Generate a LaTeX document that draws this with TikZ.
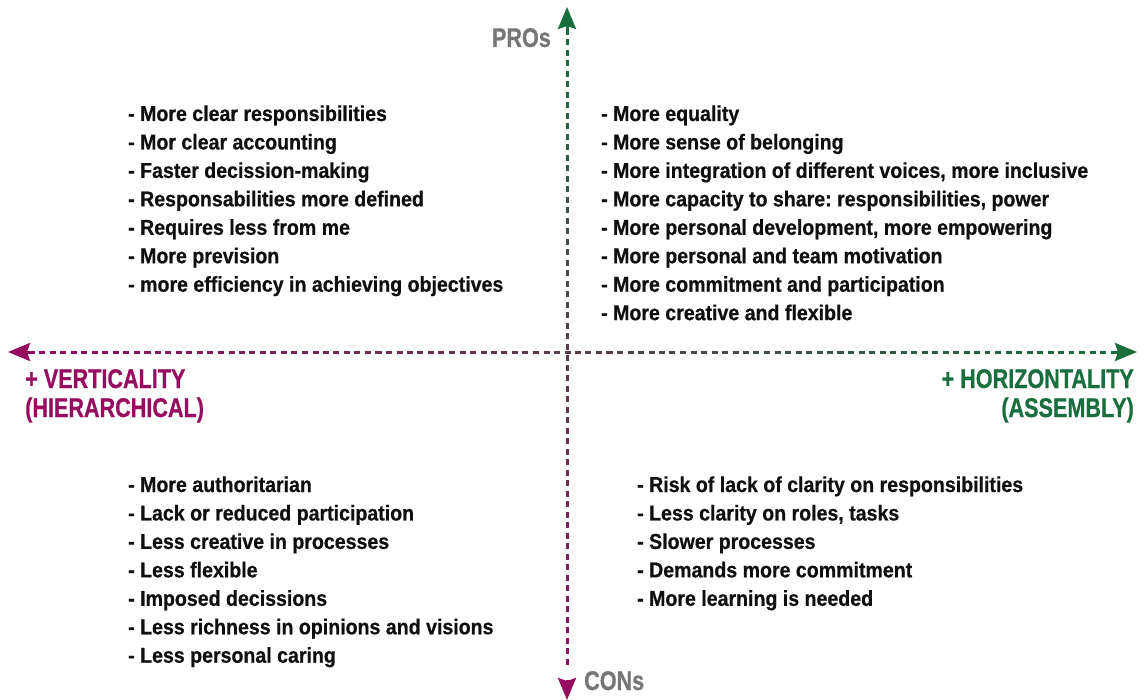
\documentclass[tikz,border=0pt]{standalone}
\usepackage{fontspec}
\setmainfont{Liberation Sans}[FakeStretch=0.91,BoldFeatures={FakeBold=0.6}]
\newfontfamily\axfont{Liberation Sans}[FakeStretch=0.8,BoldFeatures={FakeBold=0.6}]
\usetikzlibrary{arrows.meta,calc}
\definecolor{axgreen}{RGB}{24,110,60}
\definecolor{axmag}{RGB}{150,12,95}
\definecolor{axgray}{RGB}{118,118,118}
\definecolor{itemtext}{RGB}{15,15,15}
\frenchspacing
\begin{document}
\begin{tikzpicture}[x=1pt,y=-1pt,
  item/.style={anchor=base west,inner sep=0pt,font=\fontsize{21.5}{25}\selectfont\bfseries,text=itemtext},
  axlabel/.style={inner sep=0pt,font=\axfont\fontsize{27}{30}\selectfont\bfseries},
  dashseg/.style={line width=3pt},
  tip/.style={line width=3pt,-{Stealth[length=22pt,width=18pt,inset=3pt]}}]
\useasboundingbox (0,0) rectangle (1145,700);
% axis coordinates
\coordinate (toptip) at (567,7);
\coordinate (topbase) at (567,29);
\coordinate (bottip) at (567,700);
\coordinate (botbase) at (567,680);
\coordinate (lefttip) at (8,352);
\coordinate (leftbase) at (29,352);
\coordinate (righttip) at (1137,352);
\coordinate (rightbase) at (1115,352);
% vertical gradient dashes (green top -> magenta bottom)
\foreach \k in {0,...,60}{
  \pgfmathsetmacro\ta{\k*10.5/651}
  \pgfmathsetmacro\tb{min(1,(\k*10.5+6)/651)}
  \pgfmathsetmacro\f{100*(\ta+\tb)/2}
  \ifdim\ta pt<1pt
  \draw[dashseg,color=axmag!\f!axgreen] ($(topbase)!\ta!(botbase)$) -- ($(topbase)!\tb!(botbase)$);
  \fi
}
% horizontal gradient dashes (magenta left -> green right)
\foreach \k in {0,...,103}{
  \pgfmathsetmacro\ta{\k*10.5/1086}
  \pgfmathsetmacro\tb{min(1,(\k*10.5+6)/1086)}
  \pgfmathsetmacro\f{100*(\ta+\tb)/2}
  \ifdim\ta pt<1pt
  \draw[dashseg,color=axgreen!\f!axmag] ($(leftbase)!\ta!(rightbase)$) -- ($(leftbase)!\tb!(rightbase)$);
  \fi
}
% arrow heads
\draw[tip,axgreen] (topbase) -- (toptip);
\draw[tip,axmag] (botbase) -- (bottip);
\draw[tip,axmag] (leftbase) -- (lefttip);
\draw[tip,axgreen] (rightbase) -- (righttip);
% axis labels
\node[axlabel,anchor=base east,text=axgray] (pros) at (551,47) {PROs};
\node[axlabel,anchor=base west,text=axgray] (cons) at (584,690) {CONs};
\node[axlabel,anchor=base west,text=axmag] (vert1) at (25,388) {+ VERTICALITY};
\node[axlabel,anchor=base west,text=axmag] (vert2) at (25,417) {(HIERARCHICAL)};
\node[axlabel,anchor=base east,text=axgreen] (hor1) at (1134,388) {+ HORIZONTALITY};
\node[axlabel,anchor=base east,text=axgreen] (hor2) at (1134,417) {(ASSEMBLY)};
% lists
\foreach \t [count=\i] in {- More clear responsibilities,- Mor clear accounting,- Faster decission-making,- Responsabilities more defined,- Requires less from me,- More prevision,- more efficiency in achieving objectives}
  \node[item] (tl\i) at (128,{121+28.45*(\i-1)}) {\t};
\foreach \t [count=\i] in {- More equality,- More sense of belonging,{- More integration of different voices, more inclusive},{- More capacity to share: responsibilities, power},{- More personal development, more empowering},- More personal and team motivation,- More commitment and participation,- More creative and flexible}
  \node[item] (tr\i) at (601,{121+28.45*(\i-1)}) {\t};
\foreach \t [count=\i] in {- More authoritarian,- Lack or reduced participation,- Less creative in processes,- Less flexible,- Imposed decissions,- Less richness in opinions and visions,- Less personal caring}
  \node[item] (bl\i) at (128,{492+28.45*(\i-1)}) {\t};
\foreach \t [count=\i] in {- Risk of lack of clarity on responsibilities,{- Less clarity on roles, tasks},- Slower processes,- Demands more commitment,- More learning is needed}
  \node[item] (br\i) at (637,{492+28.45*(\i-1)}) {\t};
\end{tikzpicture}
\end{document}
